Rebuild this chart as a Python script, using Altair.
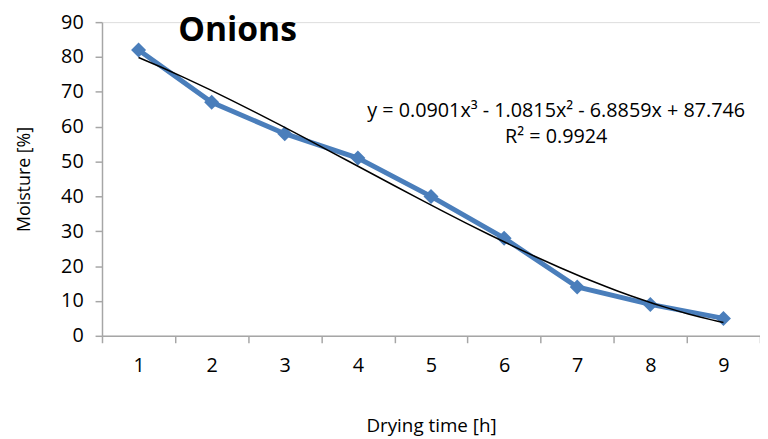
import altair as alt
import pandas as pd

hours = [1, 2, 3, 4, 5, 6, 7, 8, 9]
moisture = [82, 67, 58, 51, 40, 28, 14, 9, 5]
chart_title = "Onions"
equation = "y = 0.0901x³ - 1.0815x² - 6.8859x + 87.746"
r_squared = "R² = 0.9924"
x_title = "Drying time [h]"
y_title = "Moisture [%]"

FONT = "Open Sans"
BLUE = "#4A7EBB"
AXIS_GRAY = "#A6A6A6"

df = pd.DataFrame({"t": hours, "m": moisture})
x_axis_values = [0.5 + 0.5 * i for i in range(19)]

x_enc = alt.X(
    "t:Q",
    scale=alt.Scale(domain=[0.5, 9.5], nice=False, zero=False),
    axis=alt.Axis(
        title=x_title,
        values=x_axis_values,
        labelExpr="datum.value % 1 == 0 ? format(datum.value, 'd') : ''",
        tickOpacity={"condition": {"test": "datum.value % 1 == 0", "value": 0}, "value": 1},
        labelOverlap=False,
        labelFlush=False,
        grid=False,
        domainColor=AXIS_GRAY,
        tickColor=AXIS_GRAY,
        tickSize=7,
        domainWidth=1.5,
        tickWidth=1.5,
        labelFont=FONT,
        labelFontSize=20,
        labelColor="#000000",
        labelPadding=13,
        titleFont=FONT,
        titleFontSize=19,
        titleFontWeight="normal",
        titleColor="#000000",
        titlePadding=42,
    ),
)
y_enc = alt.Y(
    "m:Q",
    scale=alt.Scale(domain=[0, 90], nice=False),
    axis=alt.Axis(
        title=y_title,
        values=list(range(0, 91, 10)),
        labelOverlap=False,
        grid=False,
        domainColor=AXIS_GRAY,
        tickColor=AXIS_GRAY,
        tickSize=7,
        domainWidth=1.5,
        tickWidth=1.5,
        labelFont=FONT,
        labelFontSize=20,
        labelColor="#000000",
        labelPadding=12,
        titleFont=FONT,
        titleFontSize=18,
        titleFontWeight="normal",
        titleColor="#000000",
        titlePadding=27,
    ),
)

base = alt.Chart(df).encode(x=x_enc, y=y_enc)
line = base.mark_line(color=BLUE, strokeWidth=5)
points = base.mark_point(shape="diamond", filled=True, color=BLUE, size=230, opacity=1)
trend = base.transform_regression("t", "m", method="poly", order=3).mark_line(
    color="#000000", strokeWidth=1.5
)

title_mark = alt.Chart(pd.DataFrame({"txt": [chart_title]})).mark_text(
    font=FONT, fontSize=34, fontWeight="bold", color="#000000", align="center", baseline="middle"
).encode(text="txt:N", x=alt.value(137), y=alt.value(9))
eq_mark = alt.Chart(pd.DataFrame({"txt": [equation]})).mark_text(
    font=FONT, fontSize=20, color="#000000", align="center", baseline="middle"
).encode(text="txt:N", x=alt.value(459), y=alt.value(90))
r2_mark = alt.Chart(pd.DataFrame({"txt": [r_squared]})).mark_text(
    font=FONT, fontSize=20, color="#000000", align="center", baseline="middle"
).encode(text="txt:N", x=alt.value(459), y=alt.value(116))

chart = (
    alt.layer(line, points, trend, title_mark, eq_mark, r2_mark)
    .properties(
        width=665,
        height=317,
        autosize=alt.AutoSizeParams(type="none"),
        padding={"left": 95, "top": 12, "right": 0, "bottom": 102},
    )
    .configure_view(stroke=None)
    .configure_axis(labelOverlap=False)
    .configure(background="#FFFFFF")
)

chart.save("out.html", embed_options={"renderer": "svg", "actions": False})
